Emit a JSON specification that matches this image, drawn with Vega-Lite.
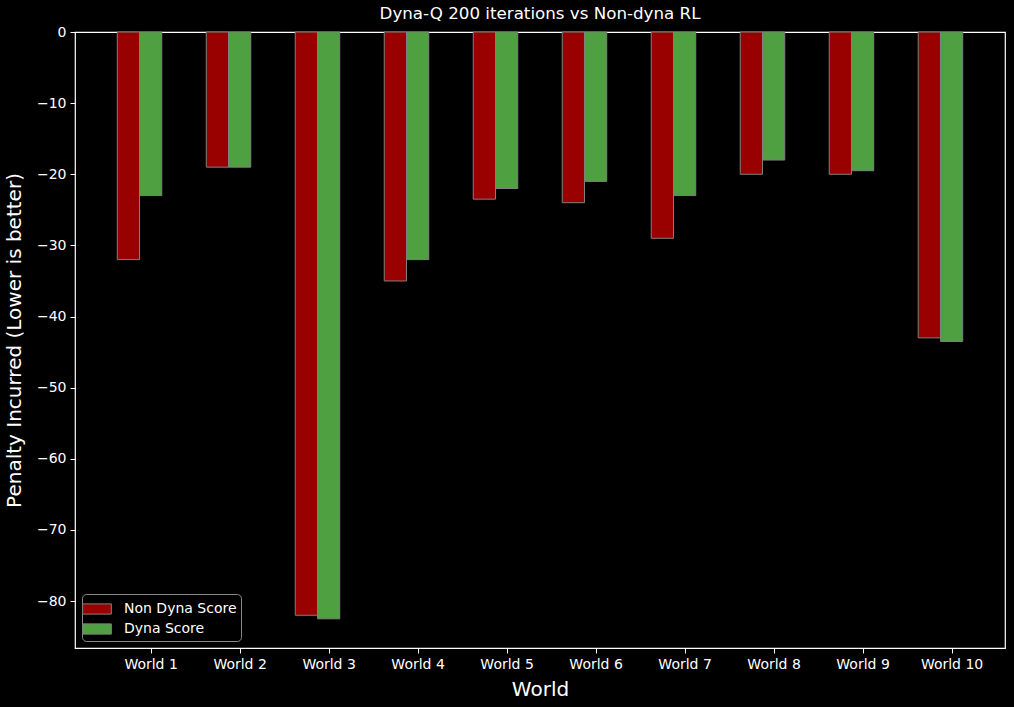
{
  "$schema": "https://vega.github.io/schema/vega-lite/v6.json",
  "autosize": "none",
  "width": 930,
  "height": 616,
  "padding": {"left": 75, "top": 32, "right": 9, "bottom": 59},
  "background": "#000000",
  "title": {"text": "Dyna-Q 200 iterations vs Non-dyna RL", "color": "#ffffff", "font": "DejaVu Sans", "fontSize": 16.7, "fontWeight": "normal", "offset": 2},
  "config": {
    "view": {"stroke": "#ffffff", "strokeWidth": 1.2},
    "font": "DejaVu Sans"
  },
  "data": {"values": [
    {"world": "World 1", "series": "Non Dyna Score", "score": -32},
    {"world": "World 1", "series": "Dyna Score", "score": -23},
    {"world": "World 2", "series": "Non Dyna Score", "score": -19},
    {"world": "World 2", "series": "Dyna Score", "score": -19},
    {"world": "World 3", "series": "Non Dyna Score", "score": -82},
    {"world": "World 3", "series": "Dyna Score", "score": -82.5},
    {"world": "World 4", "series": "Non Dyna Score", "score": -35},
    {"world": "World 4", "series": "Dyna Score", "score": -32},
    {"world": "World 5", "series": "Non Dyna Score", "score": -23.5},
    {"world": "World 5", "series": "Dyna Score", "score": -22},
    {"world": "World 6", "series": "Non Dyna Score", "score": -24},
    {"world": "World 6", "series": "Dyna Score", "score": -21},
    {"world": "World 7", "series": "Non Dyna Score", "score": -29},
    {"world": "World 7", "series": "Dyna Score", "score": -23},
    {"world": "World 8", "series": "Non Dyna Score", "score": -20},
    {"world": "World 8", "series": "Dyna Score", "score": -18},
    {"world": "World 9", "series": "Non Dyna Score", "score": -20},
    {"world": "World 9", "series": "Dyna Score", "score": -19.5},
    {"world": "World 10", "series": "Non Dyna Score", "score": -43},
    {"world": "World 10", "series": "Dyna Score", "score": -43.5}
  ]},
  "mark": {"type": "bar", "stroke": "#808080", "strokeWidth": 1, "opacity": 1},
  "encoding": {
    "x": {
      "field": "world", "type": "nominal", "sort": null,
      "scale": {"paddingInner": 0.5, "paddingOuter": 0.475},
      "axis": {
        "title": "World", "titleColor": "#ffffff", "titleFontSize": 20, "titleFontWeight": "normal", "titlePadding": 8,
        "labelAngle": 0, "labelColor": "#ffffff", "labelFontSize": 14, "labelPadding": 4,
        "tickOffset": 11.1, "tickColor": "#ffffff", "tickSize": 5, "tickWidth": 1,
        "domain": false, "grid": false
      }
    },
    "xOffset": {"field": "series", "type": "nominal", "sort": ["Non Dyna Score", "Dyna Score"], "scale": {"paddingInner": 0, "paddingOuter": 0}},
    "y": {
      "field": "score", "type": "quantitative",
      "scale": {"domain": [-86.6, 0], "nice": false, "zero": false},
      "axis": {
        "title": "Penalty Incurred (Lower is better)", "titleColor": "#ffffff", "titleFontSize": 20, "titleFontWeight": "normal", "titlePadding": 12,
        "values": [0, -10, -20, -30, -40, -50, -60, -70, -80],
        "labelColor": "#ffffff", "labelFontSize": 14, "labelPadding": 4,
        "tickColor": "#ffffff", "tickSize": 5, "tickWidth": 1,
        "domain": false, "grid": false
      }
    },
    "color": {
      "field": "series", "type": "nominal",
      "scale": {"domain": ["Non Dyna Score", "Dyna Score"], "range": ["#990000", "#4fa040"]},
      "legend": {
        "title": null, "orient": "bottom-left", "offset": 7,
        "fillColor": "#000000", "strokeColor": "#888888", "cornerRadius": 4, "padding": 4,
        "labelColor": "#ffffff", "labelFontSize": 14, "labelFont": "DejaVu Sans",
        "symbolType": "M-1.4,-0.5L1.4,-0.5L1.4,0.5L-1.4,0.5Z", "symbolSize": 420, "symbolStrokeColor": "#808080", "symbolStrokeWidth": 1,
        "rowPadding": 1, "labelOffset": 16
      }
    }
  }
}
